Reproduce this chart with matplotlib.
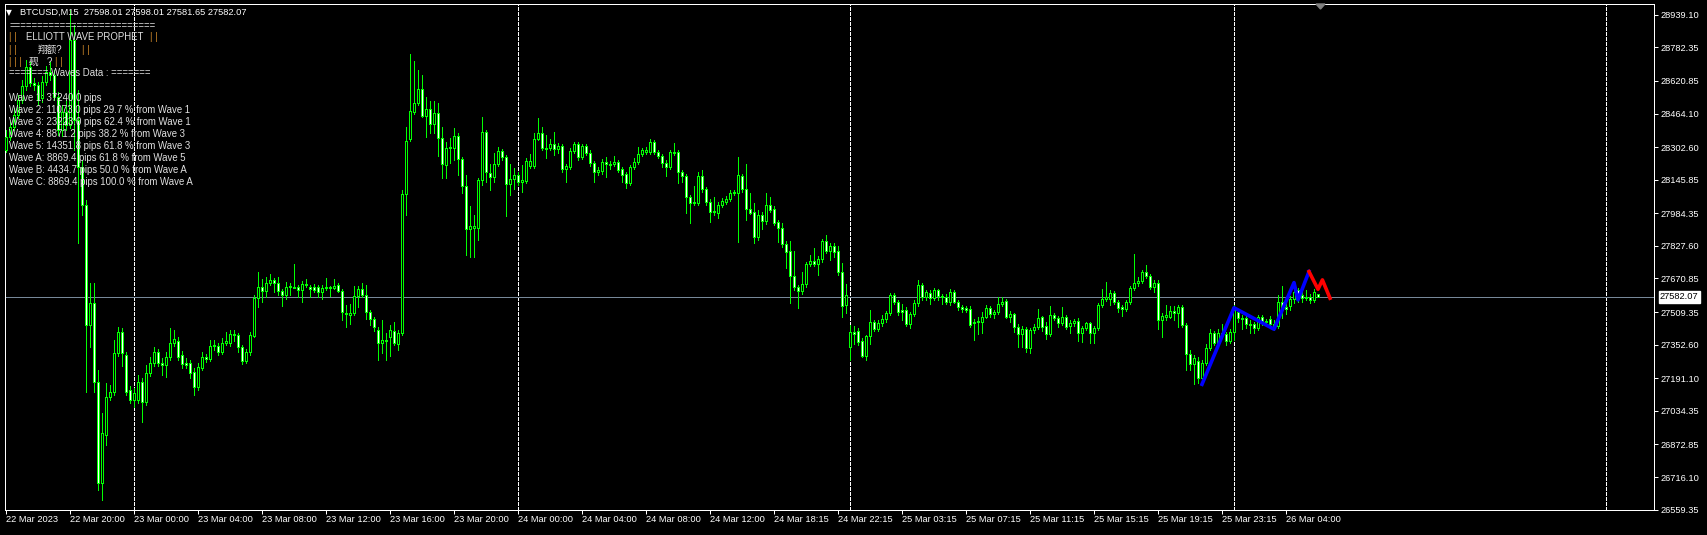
import matplotlib
matplotlib.use("Agg")
import matplotlib.pyplot as plt
from matplotlib.patches import Polygon

# BTCUSD M15 bars (oldest first)
opens = [
    28289, 28351, 28399, 28457, 28529, 28597, 28688, 28611, 28601, 28539,
    28616, 28664, 28649, 28544, 28385, 28471, 28409, 28818, 28433, 28207,
    28024, 27447, 27553, 27173, 26688, 26918, 27101, 27125, 27313, 27414,
    27303, 27135, 27087, 27087, 27173, 27077, 27217, 27265, 27318, 27265,
    27255, 27294, 27361, 27370, 27303, 27265, 27265, 27221, 27149, 27241,
    27294, 27284, 27346, 27346, 27318, 27361, 27361, 27404, 27399, 27342,
    27274, 27318, 27394, 27577, 27630, 27611, 27649, 27664, 27649, 27611,
    27592, 27630, 27630, 27630, 27616, 27640, 27630, 27630, 27630, 27606,
    27625, 27630, 27625, 27640, 27611, 27500, 27495, 27505, 27587, 27620,
    27592, 27510, 27476, 27423, 27361, 27375, 27390, 27418, 27356, 27409,
    28077, 28342, 28471, 28515, 28582, 28452, 28486, 28414, 28467, 28346,
    28217, 28298, 28298, 28356, 28245, 28116, 27909, 27914, 27914, 28145,
    28375, 28178, 28159, 28221, 28284, 28255, 28125, 28149, 28169, 28135,
    28140, 28212, 28212, 28342, 28371, 28298, 28298, 28318, 28294, 28308,
    28197, 28207, 28284, 28318, 28255, 28308, 28274, 28226, 28183, 28188,
    28231, 28221, 28221, 28231, 28197, 28174, 28130, 28207, 28231, 28270,
    28279, 28279, 28327, 28279, 28260, 28226, 28207, 28279, 28279, 28183,
    28164, 28063, 28034, 28034, 28164, 28101, 28039, 27991, 27986, 28024,
    28039, 28053, 28082, 28082, 28164, 28101, 28005, 27991, 27870, 27976,
    27947, 28024, 28005, 27943, 27914, 27837, 27803, 27683, 27630, 27611,
    27645, 27741, 27755, 27741, 27765, 27851, 27803, 27827, 27803, 27702,
    27543, 27342, 27414, 27418, 27370, 27298, 27394, 27462, 27428, 27457,
    27476, 27505, 27592, 27558, 27519, 27519, 27452, 27500, 27553, 27640,
    27582, 27601, 27577, 27616, 27587, 27582, 27558, 27606, 27558, 27534,
    27529, 27524, 27462, 27462, 27462, 27486, 27529, 27500, 27510, 27548,
    27563, 27486, 27500, 27438, 27404, 27428, 27337, 27423, 27438, 27486,
    27442, 27404, 27495, 27481, 27457, 27486, 27442, 27457, 27467, 27409,
    27433, 27457, 27409, 27433, 27543, 27572, 27572, 27601, 27558, 27534,
    27524, 27558, 27625, 27649, 27659, 27702, 27683, 27630, 27649, 27471,
    27486, 27486, 27515, 27505, 27534, 27447, 27308, 27260, 27274, 27193,
    27265, 27337, 27409, 27361, 27409, 27404, 27370, 27414, 27510, 27481,
    27481, 27452, 27452, 27433, 27486, 27462, 27476, 27452, 27442, 27558,
    27534, 27539, 27572, 27616, 27592, 27577, 27582, 27568, 27598.01,
]
highs = [
    28385, 28423, 28491, 28553, 28625, 28722, 28712, 28635, 28616, 28644,
    28693, 28712, 28673, 28568, 28505, 28529, 28962, 28890, 28577, 28241,
    28048, 27649, 27649, 27231, 27024, 27168, 27159, 27375, 27438, 27433,
    27318, 27154, 27144, 27207, 27193, 27255, 27294, 27342, 27332, 27289,
    27318, 27433, 27423, 27390, 27322, 27289, 27279, 27241, 27265, 27318,
    27308, 27375, 27375, 27361, 27385, 27414, 27423, 27423, 27409, 27351,
    27332, 27414, 27592, 27702, 27669, 27678, 27693, 27673, 27678, 27620,
    27654, 27649, 27741, 27640, 27659, 27669, 27640, 27645, 27640, 27640,
    27673, 27635, 27669, 27649, 27620, 27543, 27548, 27635, 27635, 27649,
    27640, 27519, 27486, 27438, 27471, 27409, 27447, 27462, 27423, 28096,
    28399, 28750, 28717, 28673, 28649, 28544, 28524, 28524, 28515, 28399,
    28327, 28346, 28394, 28371, 28255, 28169, 28020, 27976, 28154, 28447,
    28385, 28221, 28274, 28303, 28294, 28265, 28221, 28202, 28183, 28217,
    28250, 28270, 28371, 28443, 28399, 28361, 28342, 28375, 28322, 28318,
    28221, 28298, 28327, 28327, 28318, 28318, 28289, 28236, 28207, 28245,
    28255, 28236, 28260, 28241, 28207, 28183, 28217, 28250, 28303, 28298,
    28303, 28342, 28337, 28289, 28270, 28241, 28289, 28322, 28289, 28193,
    28174, 28072, 28116, 28183, 28193, 28111, 28053, 28063, 28039, 28058,
    28068, 28096, 28096, 28255, 28174, 28221, 28082, 28034, 28000, 27991,
    28082, 28063, 28020, 27952, 27938, 27851, 27851, 27803, 27640, 27702,
    27750, 27784, 27818, 27779, 27861, 27880, 27842, 27842, 27827, 27745,
    27645, 27447, 27442, 27433, 27385, 27399, 27519, 27471, 27471, 27495,
    27515, 27601, 27601, 27568, 27548, 27534, 27510, 27568, 27664, 27649,
    27616, 27616, 27625, 27620, 27596, 27596, 27620, 27616, 27568, 27543,
    27539, 27539, 27476, 27486, 27510, 27543, 27539, 27519, 27582, 27582,
    27572, 27515, 27505, 27452, 27442, 27438, 27433, 27452, 27524, 27491,
    27462, 27539, 27505, 27491, 27534, 27495, 27471, 27476, 27481, 27442,
    27462, 27462, 27442, 27553, 27620, 27654, 27616, 27611, 27568, 27543,
    27568, 27635, 27789, 27678, 27712, 27736, 27693, 27664, 27664, 27505,
    27543, 27539, 27539, 27543, 27543, 27457, 27327, 27303, 27294, 27279,
    27356, 27428, 27418, 27428, 27452, 27414, 27428, 27543, 27524, 27495,
    27491, 27471, 27462, 27495, 27495, 27476, 27491, 27471, 27592, 27635,
    27568, 27587, 27640, 27625, 27616, 27616, 27596, 27620, 27598.01,
]
lows = [
    28279, 28337, 28385, 28443, 28515, 28577, 28597, 28577, 28505, 28520,
    28601, 28625, 28529, 28361, 28356, 28385, 28394, 28289, 27842, 27976,
    27125, 27342, 27125, 26654, 26606, 26870, 27087, 27111, 27298, 27250,
    27111, 27072, 27053, 27072, 26981, 27063, 27202, 27250, 27250, 27207,
    27197, 27279, 27346, 27279, 27241, 27241, 27193, 27111, 27135, 27231,
    27270, 27274, 27327, 27303, 27308, 27351, 27346, 27370, 27318, 27260,
    27265, 27303, 27390, 27534, 27558, 27582, 27640, 27606, 27592, 27539,
    27572, 27592, 27625, 27582, 27558, 27630, 27582, 27606, 27582, 27572,
    27616, 27587, 27620, 27606, 27471, 27438, 27452, 27495, 27534, 27582,
    27476, 27447, 27418, 27279, 27313, 27279, 27298, 27351, 27327, 27399,
    27976, 28332, 28462, 28505, 28447, 28351, 28371, 28371, 28260, 28154,
    28154, 28226, 28241, 28169, 28082, 27784, 27774, 27774, 27856, 28120,
    28135, 28096, 28135, 28212, 28241, 27971, 28072, 28101, 28120, 28087,
    28130, 28202, 28202, 28337, 28289, 28250, 28289, 28265, 28274, 28183,
    28135, 28197, 28274, 28241, 28245, 28265, 28212, 28135, 28169, 28174,
    28159, 28197, 28212, 28183, 28135, 28106, 28120, 28197, 28221, 28260,
    28270, 28270, 28270, 28250, 28207, 28164, 28197, 28265, 28130, 28135,
    27986, 27938, 28024, 28024, 28087, 28024, 27943, 27976, 27962, 28015,
    28029, 28044, 28072, 27846, 28087, 27952, 27981, 27842, 27856, 27909,
    27933, 27991, 27928, 27846, 27822, 27721, 27553, 27616, 27529, 27596,
    27630, 27731, 27731, 27688, 27750, 27794, 27760, 27774, 27688, 27486,
    27505, 27279, 27356, 27351, 27294, 27279, 27356, 27418, 27418, 27442,
    27462, 27495, 27548, 27495, 27471, 27442, 27433, 27491, 27539, 27568,
    27568, 27548, 27568, 27568, 27548, 27548, 27543, 27553, 27519, 27510,
    27510, 27438, 27375, 27404, 27409, 27481, 27486, 27481, 27500, 27539,
    27481, 27462, 27414, 27342, 27342, 27318, 27313, 27409, 27428, 27418,
    27380, 27394, 27471, 27438, 27447, 27428, 27409, 27442, 27370, 27366,
    27423, 27361, 27361, 27423, 27534, 27563, 27543, 27548, 27510, 27491,
    27515, 27548, 27616, 27635, 27649, 27673, 27620, 27606, 27428, 27390,
    27471, 27481, 27471, 27438, 27438, 27231, 27231, 27164, 27168, 27173,
    27255, 27327, 27351, 27356, 27385, 27351, 27361, 27375, 27462, 27428,
    27433, 27409, 27409, 27423, 27447, 27452, 27433, 27423, 27433, 27481,
    27500, 27519, 27553, 27558, 27558, 27568, 27553, 27558, 27581.65,
]
closes = [
    28351, 28399, 28457, 28529, 28597, 28688, 28611, 28601, 28529, 28616,
    28664, 28649, 28544, 28385, 28471, 28409, 28818, 28433, 28207, 28024,
    27447, 27553, 27173, 26688, 26928, 27101, 27125, 27313, 27414, 27313,
    27125, 27087, 27120, 27173, 27077, 27217, 27265, 27318, 27265, 27255,
    27294, 27361, 27380, 27294, 27260, 27255, 27217, 27149, 27245, 27294,
    27284, 27346, 27351, 27318, 27361, 27370, 27404, 27399, 27342, 27274,
    27318, 27399, 27577, 27630, 27611, 27649, 27664, 27649, 27611, 27592,
    27630, 27635, 27625, 27616, 27645, 27645, 27620, 27616, 27606, 27625,
    27630, 27625, 27635, 27611, 27510, 27505, 27505, 27587, 27620, 27592,
    27510, 27476, 27438, 27361, 27375, 27370, 27423, 27361, 27409, 28077,
    28332, 28476, 28515, 28582, 28452, 28486, 28414, 28467, 28346, 28221,
    28298, 28303, 28356, 28245, 28116, 27909, 27923, 27923, 28145, 28375,
    28183, 28159, 28221, 28284, 28255, 28125, 28149, 28169, 28135, 28145,
    28236, 28236, 28342, 28371, 28298, 28294, 28318, 28294, 28308, 28197,
    28212, 28284, 28318, 28255, 28308, 28274, 28226, 28183, 28193, 28231,
    28221, 28217, 28231, 28193, 28169, 28130, 28207, 28231, 28270, 28289,
    28289, 28327, 28279, 28260, 28226, 28207, 28279, 28274, 28183, 28164,
    28063, 28034, 28039, 28164, 28101, 28039, 27991, 27995, 28024, 28044,
    28053, 28082, 28087, 28169, 28101, 28005, 27986, 27870, 27976, 27947,
    28024, 28000, 27938, 27914, 27837, 27798, 27683, 27630, 27611, 27645,
    27741, 27755, 27741, 27765, 27851, 27803, 27827, 27798, 27702, 27539,
    27592, 27414, 27404, 27366, 27298, 27394, 27462, 27428, 27457, 27476,
    27505, 27592, 27558, 27510, 27510, 27452, 27500, 27553, 27640, 27582,
    27606, 27577, 27616, 27587, 27582, 27558, 27606, 27558, 27534, 27524,
    27519, 27447, 27457, 27467, 27486, 27529, 27500, 27510, 27548, 27558,
    27486, 27500, 27438, 27404, 27428, 27337, 27423, 27438, 27481, 27438,
    27404, 27495, 27481, 27457, 27486, 27438, 27457, 27467, 27409, 27433,
    27457, 27409, 27433, 27543, 27572, 27582, 27601, 27558, 27529, 27524,
    27558, 27625, 27649, 27659, 27702, 27683, 27630, 27649, 27471, 27491,
    27495, 27515, 27505, 27534, 27447, 27308, 27260, 27289, 27193, 27265,
    27337, 27409, 27361, 27409, 27404, 27370, 27414, 27519, 27481, 27476,
    27452, 27447, 27433, 27486, 27462, 27467, 27452, 27442, 27558, 27534,
    27524, 27572, 27606, 27592, 27577, 27582, 27568, 27606, 27582.07,
]

# x axis labels, one every 16 bars
time_labels = [
    "22 Mar 2023", "22 Mar 20:00", "23 Mar 00:00", "23 Mar 04:00", "23 Mar 08:00",
    "23 Mar 12:00", "23 Mar 16:00", "23 Mar 20:00", "24 Mar 00:00", "24 Mar 04:00",
    "24 Mar 08:00", "24 Mar 12:00", "24 Mar 18:15", "24 Mar 22:15", "25 Mar 03:15",
    "25 Mar 07:15", "25 Mar 11:15", "25 Mar 15:15", "25 Mar 19:15", "25 Mar 23:15",
    "26 Mar 04:00",
]
price_ticks = [
    28939.10, 28782.35, 28620.85, 28464.10, 28302.60, 28145.85, 27984.35, 27827.60,
    27670.85, 27509.35, 27352.60, 27191.10, 27034.35, 26872.85, 26716.10, 26559.35,
]
day_separators = [32, 128, 211, 307, 400]
bid_price = 27582.07

# elliott wave zigzag (bar index, price)
wave_bars = [299, 307, 317, 322, 323, 325.75]
wave_prices = [27162, 27530, 27427, 27651, 27568, 27704]
proj_bars = [325.75, 328, 329.1, 331]
proj_prices = [27704, 27619, 27664, 27576]

header = "BTCUSD,M15  27598.01 27598.01 27581.65 27582.07"
wave_lines = [
    "Wave 1: 37240.0 pips",
    "Wave 2: 11073.0 pips 29.7 % from Wave 1",
    "Wave 3: 23223.0 pips 62.4 % from Wave 1",
    "Wave 4: 8871.2 pips 38.2 % from Wave 3",
    "Wave 5: 14351.8 pips 61.8 % from Wave 3",
    "Wave A: 8869.4 pips 61.8 % from Wave 5",
    "Wave B: 4434.7 pips 50.0 % from Wave A",
    "Wave C: 8869.4 pips 100.0 % from Wave A",
]

assert len(opens) == len(highs) == len(lows) == len(closes)

W, H = 1707, 535
LIME = "#00ff00"
FONT = ["Liberation Sans", "Noto Sans CJK SC", "DejaVu Sans"]
FS = 6.7      # axis / header text
FS_IND = 6.95  # indicator comment text
PX = 72 / 100  # one pixel in points

plt.rcParams["font.family"] = FONT


def fpos(x, y):
    """pixel position (top-left origin) -> figure fraction"""
    return x / W, 1 - y / H


fig = plt.figure(figsize=(W / 100, H / 100), dpi=100, facecolor="black")
ax = fig.add_axes([4.5 / W, 1 - 510 / H, (1654 - 4.5) / W, (510 - 4) / H])
ax.set_facecolor("black")

n = len(closes)
xs = list(range(n))

# wicks
ax.vlines(xs, lows, highs, color=LIME, linewidth=PX, antialiased=False, zorder=2)

# bodies: bull = black, bear = white
bottoms = [min(o, c) for o, c in zip(opens, closes)]
heights = [max(abs(c - o), 0.5) for o, c in zip(opens, closes)]
faces = ["black" if c >= o else "white" for o, c in zip(opens, closes)]
ax.bar(xs, heights, bottom=bottoms, width=0.5, color=faces, edgecolor=LIME,
       linewidth=PX, antialiased=False, zorder=3)

# day separators
for s in day_separators:
    ax.axvline(s, color="white", linewidth=PX, linestyle=(0, (3, 2)),
               antialiased=False, zorder=1)

# bid line
ax.axhline(bid_price, color="#778899", linewidth=PX, antialiased=False, zorder=1)

# wave lines
ax.plot(wave_bars, wave_prices, color="#0000ff", linewidth=2.6,
        solid_joinstyle="round", zorder=5)
ax.plot(proj_bars, proj_prices, color="#ff0000", linewidth=2.6,
        solid_joinstyle="round", zorder=5)

ax.set_xlim(-0.375, 412)
ax.set_ylim(26557.7, 28990.6)

# axes styling
for sp in ax.spines.values():
    sp.set_color("white")
    sp.set_linewidth(PX)

ax.yaxis.tick_right()
ax.set_yticks(price_ticks)
ax.set_yticklabels([f"{p:.2f}" for p in price_ticks])
ax.set_xticks(list(range(0, 16 * len(time_labels), 16)))
ax.set_xticklabels(time_labels)
ax.tick_params(axis="both", colors="white", labelcolor="white", labelsize=FS,
               length=4 * PX, width=PX, direction="out")
ax.tick_params(axis="y", pad=1.5)
ax.tick_params(axis="x", pad=1)
for lbl in ax.get_xticklabels():
    lbl.set_ha("left")

# current price box on the price scale
ax.annotate(f"{bid_price:.2f}", xy=(1.0, bid_price),
            xycoords=("axes fraction", "data"), xytext=(4.3, 0),
            textcoords="offset points", ha="left", va="center",
            fontsize=FS, color="black",
            bbox=dict(boxstyle="square,pad=0.15", fc="white", ec="white"))

# header and indicator text
fig.text(*fpos(6, 12.5), "\u25bc", color="white", fontsize=5.5,
         family="DejaVu Sans", va="center")
fig.text(*fpos(20.5, 12.5), header, color="white", fontsize=FS, va="center")

TXT = "#e0e0e0"
BAR = "#d08a2a"


def ind_text(x, y, s, color=TXT):
    fig.text(*fpos(x, y), s, color=color, fontsize=FS_IND, va="center")


ind_text(9.3, 26, "=" * 26)
ind_text(9.3, 37.5, "| |", BAR)
ind_text(26, 37.5, "ELLIOTT WAVE PROPHET")
ind_text(150, 37.5, "| |", BAR)
ind_text(9.3, 50, "| |", BAR)
ind_text(38, 50, "翔额?")
ind_text(82, 50, "| |", BAR)
ind_text(9.3, 62, "| | |", BAR)
ind_text(29, 62, "觋")
ind_text(47, 62, "?")
ind_text(55, 62, "| |", BAR)
ind_text(9.3, 73.5, "======= Waves Data : =======")
for k, line in enumerate(wave_lines):
    ind_text(9.3, 98 + 12 * k, line)

# chart shift marker
fig.add_artist(Polygon([[1316, H - 4], [1325, H - 4], [1320.5, H - 9]],
                       closed=True, transform=None, color="#808080"))

fig.savefig("out.png", dpi=100, facecolor="black")
